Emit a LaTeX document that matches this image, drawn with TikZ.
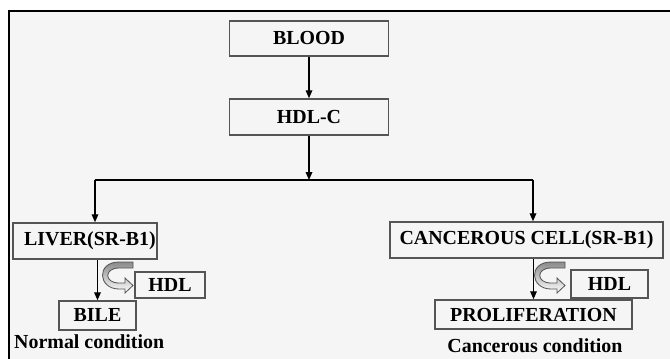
\documentclass[tikz,border=0pt]{standalone}
\usepackage{fontspec}
\setmainfont{Liberation Serif}
\usetikzlibrary{arrows.meta}
\definecolor{bgpanel}{HTML}{F5F5F5}
\definecolor{boxline}{HTML}{555555}
\definecolor{turngray}{HTML}{8A8A8A}

\begin{document}
\begin{tikzpicture}[
  x=0.3mm, y=-0.3mm,
  box/.style={draw=boxline, line width=0.45mm, fill=bgpanel, inner sep=0pt, font=\fontsize{17}{20}\selectfont\bfseries},
  lbl/.style={inner sep=0pt, font=\fontsize{17}{20}\selectfont\bfseries},
  flow/.style={-{Triangle[length=2.4mm,width=2mm]}, line width=0.35mm, black},
  turn/.style={draw=boxline, line width=0.25mm, top color=turngray, bottom color=white}
]

% Panel
\clip (0,0) rectangle (670,358);
\fill[white] (0,0) rectangle (670,358);
\draw[line width=0.6mm, fill=bgpanel] (9,11) rectangle (690,380);

% Top boxes
\node[box, minimum width=47.7mm, minimum height=10.5mm] (blood) at (309,38.5) {BLOOD};
\node[box, minimum width=47.7mm, minimum height=10.8mm] (hdlc) at (309,117) {HDL-C};

% Left branch
\node[box, minimum width=43.2mm, minimum height=10.8mm] (liver) at (85,241) {\hspace{3mm}LIVER(SR-B1)};
\node[box, minimum width=23.1mm, minimum height=8.7mm] (bile) at (97.5,315.5) {BILE};
\node[box, minimum width=21mm, minimum height=7.8mm] (hdlleft) at (170,285) {HDL};
\node[lbl, anchor=west] (normal) at (14,342) {Normal condition};

% Right branch
\node[box, minimum width=81.9mm, minimum height=10.8mm] (cancer) at (526.5,240) {CANCEROUS CELL(SR-B1)};
\node[box, minimum width=59.1mm, minimum height=8.7mm] (prolif) at (533.5,314.5) {PROLIFERATION};
\node[box, minimum width=23.1mm, minimum height=8.4mm] (hdlright) at (609.5,284) {HDL};
\node[lbl] (cancerous) at (535,346) {Cancerous condition};

% Split points
\coordinate (jmid) at (309,180);
\coordinate (jleft) at (95,180);
\coordinate (jright) at (533,180);

% Connectors
\draw[flow] (blood) -- (hdlc);
\draw[flow] (hdlc) -- (jmid);
\draw[line width=0.35mm] (jleft) -- (jright);
\draw[flow] (jleft) -- (jleft |- liver.north);
\draw[flow] (jright) -- (jright |- cancer.north);
\draw[flow] (bile.north |- liver.south) -- (bile.north);
\draw[flow] (prolif.north |- cancer.south) -- (prolif.north);

% HDL turn arrows
\draw[turn, shift={(133,262)}] (0,0) -- (-14,0) .. controls (-37,0) and (-35,27) .. (-14,27) -- (-8,27) -- (-8,31) -- (0,23.5) -- (-8,16) -- (-8,21) -- (-14,21) .. controls (-29,21) and (-29,6) .. (-14,6) -- (0,6) -- cycle;
\draw[turn, shift={(565,262)}] (0,0) -- (-14,0) .. controls (-37,0) and (-35,27) .. (-14,27) -- (-8,27) -- (-8,31) -- (0,23.5) -- (-8,16) -- (-8,21) -- (-14,21) .. controls (-29,21) and (-29,6) .. (-14,6) -- (0,6) -- cycle;

\end{tikzpicture}
\end{document}
